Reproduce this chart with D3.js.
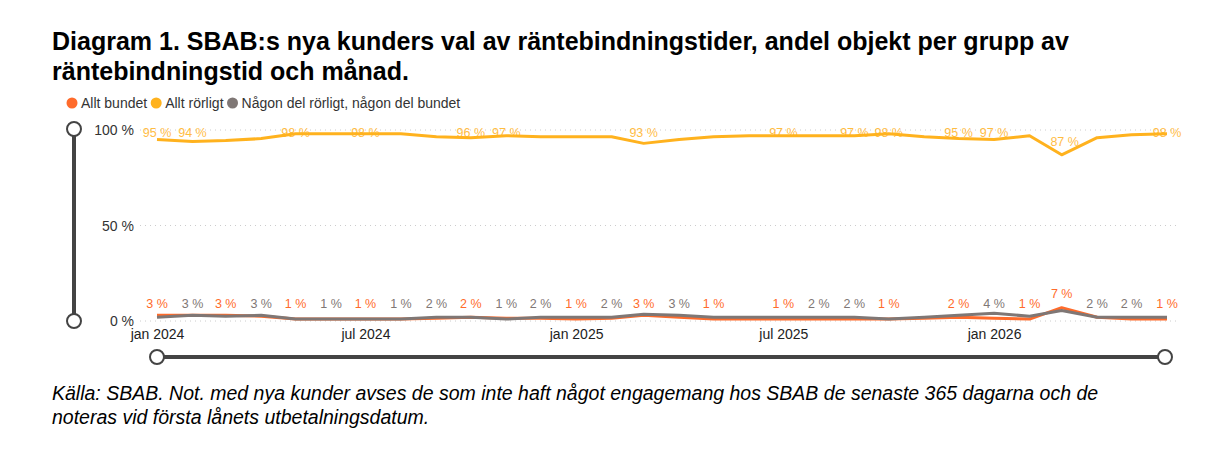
<!DOCTYPE html>
<html><head><meta charset="utf-8">
<script src="https://cdn.jsdelivr.net/npm/d3@7"></script>
<style>body{margin:0;background:#fff}svg{font-family:Arial,"Liberation Sans",sans-serif}</style>
</head><body><svg id="c" width="1216" height="451"></svg>
<script>
const months = ["2024-01","2024-02","2024-03","2024-04","2024-05","2024-06","2024-07","2024-08","2024-09","2024-10","2024-11","2024-12",
"2025-01","2025-02","2025-03","2025-04","2025-05","2025-06","2025-07","2025-08","2025-09","2025-10","2025-11","2025-12",
"2026-01","2026-02","2026-03","2026-04","2026-05","2026-06"];
const bundet  = [3,3,3,2.5,1,1,1,1,1.5,2,1.5,1.5, 1,1.5,3,2,1,1,1,1,1,1,1.5,2, 1.5,1,7,2,1,1];
const rorligt = [95,94,94.5,95.5,98,98,98,98,96.5,96,97,96.5, 96.5,96.5,93,95,96.5,97,97,97,97,98,96.5,95.5, 95,97,87,96,97.5,98];
const nagon   = [2,3,2.5,3,1,1,1,1,2,2,1,2, 2,2,3.5,3,2,2,2,2,2,1,2,3, 4,2.5,5.5,2,2,2];
// labels shown in the picture (null = none)
const rorligtLabels = [95,94,null,null,98,null,98,null,null,96,97,null, null,null,93,null,null,null,97,null,97,98,null,95, 97,null,87,null,null,98];
const bottomLabels = [["b",3],["n",3],["b",3],["n",3],["b",1],["n",1],["b",1],["n",1],["n",2],["b",2],["n",1],["n",2],
 ["b",1],["n",2],["b",3],["n",3],["b",1],null,["b",1],["n",2],["n",2],["b",1],null,["b",2],
 ["n",4],["b",1],["b",7],["n",2],["n",2],["b",1]];
const yTicks = [0,50,100];
const C = {b:"#FF6B2B", r:"#FFB21E", n:"#7F7775"};

const svg = d3.select("#c");
const parse = d3.timeParse("%Y-%m");
const dates = months.map(parse);
const x = d3.scaleTime().domain(d3.extent(dates)).range([157,1167]);
const y = d3.scaleLinear().domain([0,100]).range([321,130]);

svg.append("text").attr("x",52).attr("y",50).attr("font-size",25).attr("font-weight","bold").text("Diagram 1. SBAB:s nya kunders val av räntebindningstider, andel objekt per grupp av");
svg.append("text").attr("x",52).attr("y",80).attr("font-size",25).attr("font-weight","bold").text("räntebindningstid och månad.");

const leg=[["Allt bundet",C.b],["Allt rörligt",C.r],["Någon del rörligt, någon del bundet",C.n]];
let lx=67;
leg.forEach(([t,c])=>{
  svg.append("circle").attr("cx",lx+5).attr("cy",103).attr("r",5.5).attr("fill",c);
  const tx=svg.append("text").attr("x",lx+14).attr("y",108).attr("font-size",14).attr("fill","#333").text(t);
  lx+=14+tx.node().getComputedTextLength()+4;
});

yTicks.forEach(v=>{
  svg.append("line").attr("x1",140).attr("x2",1180).attr("y1",y(v)).attr("y2",y(v)).attr("stroke","#ccc").attr("stroke-dasharray","1,4");
  svg.append("text").attr("x",134).attr("y",y(v)+5).attr("text-anchor","end").attr("font-size",14).attr("fill","#333").text(v+" %");
});

const xa = d3.axisBottom(x).tickValues([0,6,12,18,24].map(i=>dates[i])).tickSize(0).tickFormat(d=>d3.timeFormat("%b %Y")(d).replace("Jan","jan").replace("Jul","jul"));
const g = svg.append("g").attr("transform","translate(0,326)").call(xa);
g.select(".domain").remove();
g.selectAll("text").attr("font-size",14).attr("fill","#222").attr("font-family","Arial");

const line = d3.line().x((d,i)=>x(dates[i])).y(d=>y(d));
[[rorligt,C.r],[bundet,C.b],[nagon,C.n]].forEach(([s,c])=>{
  svg.append("path").attr("d",line(s)).attr("fill","none").attr("stroke",c).attr("stroke-width",3).attr("stroke-linejoin","round");
});

rorligtLabels.forEach((v,i)=>{ if(v==null) return;
  const low = v===87;
  svg.append("text").attr("x",x(dates[i])+(low?3:0)).attr("y",low?y(rorligt[i])-9:137).attr("text-anchor","middle").attr("font-size",12.5).attr("fill",C.r).attr("opacity",0.85).text(v+" %");
});
bottomLabels.forEach((l,i)=>{ if(!l) return;
  const yy = l[1]===7 ? 298 : 308;
  svg.append("text").attr("x",x(dates[i])).attr("y",yy).attr("text-anchor","middle").attr("font-size",12.5).attr("fill",l[0]==="b"?C.b:C.n).text(l[1]+" %");
});

// sliders
svg.append("line").attr("x1",74).attr("x2",74).attr("y1",129).attr("y2",321).attr("stroke","#444").attr("stroke-width",4);
svg.append("line").attr("x1",157).attr("x2",1165).attr("y1",357).attr("y2",357).attr("stroke","#444").attr("stroke-width",4);
[[74,129],[74,321],[157,357],[1165,357]].forEach(([cx,cy])=>svg.append("circle").attr("cx",cx).attr("cy",cy).attr("r",7).attr("fill","#fff").attr("stroke","#444").attr("stroke-width",2));

svg.append("text").attr("x",52).attr("y",400).attr("font-size",19.5).attr("font-style","italic").text("Källa: SBAB. Not. med nya kunder avses de som inte haft något engagemang hos SBAB de senaste 365 dagarna och de");
svg.append("text").attr("x",52).attr("y",424).attr("font-size",19.5).attr("font-style","italic").text("noteras vid första lånets utbetalningsdatum.");
</script></body></html>
